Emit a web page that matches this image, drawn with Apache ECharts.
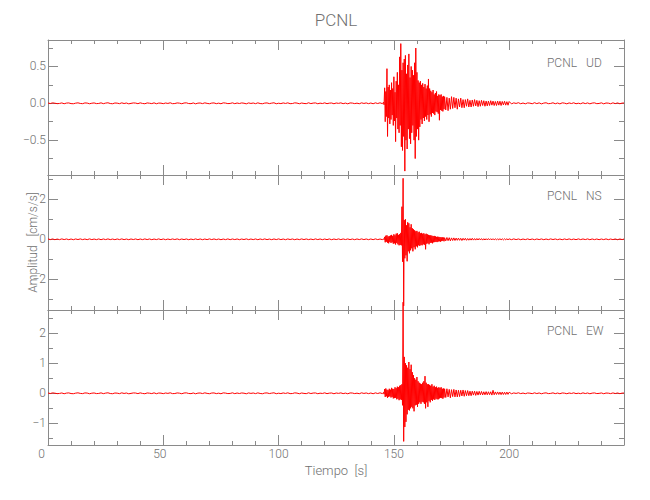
<!DOCTYPE html>
<html><head><meta charset="utf-8">
<script src="https://cdn.jsdelivr.net/npm/echarts@6/dist/echarts.min.js"></script>
<style>html,body{margin:0;padding:0;background:#fff}#main{width:650px;height:500px}</style>
</head><body><div id="main"></div>
<script>
// ---------------- data ----------------
const station = 'PCNL';
const components = ['UD', 'NS', 'EW'];
const tiempo = [
0,1,2,3,4,5,6,7,8,9,10,11,12,13,14,15,16,17,18,19,
20,21,22,23,24,25,26,27,28,29,30,31,32,33,34,35,36,37,38,39,
40,41,42,43,44,45,46,47,48,49,50,51,52,53,54,55,56,57,58,59,
60,61,62,63,64,65,66,67,68,69,70,71,72,73,74,75,76,77,78,79,
80,81,82,83,84,85,86,87,88,89,90,91,92,93,94,95,96,97,98,99,
100,101,102,103,104,105,106,107,108,109,110,111,112,113,114,115,116,117,118,119,
120,121,122,123,124,125,126,127,128,129,130,131,132,133,134,135,136,137,138,139,
140,141,142,143,144,145,
145.5,145.75,
146,146.25,146.5,146.75,147,147.25,147.5,147.75,148,148.25,148.5,148.75,
149,149.25,149.5,149.75,150,150.25,150.5,150.75,151,151.25,151.5,151.75,
152,152.25,152.5,152.75,153,153.25,153.5,153.75,154,154.25,154.5,154.75,
155,155.25,155.5,155.75,156,156.25,156.5,156.75,157,157.25,157.5,157.75,
158,158.25,158.5,158.75,159,159.25,159.5,159.75,160,160.25,160.5,160.75,
161,161.25,161.5,161.75,162,162.25,162.5,162.75,163,163.25,163.5,163.75,
164,164.25,164.5,164.75,165,165.25,165.5,165.75,166,166.25,166.5,166.75,
167,167.25,167.5,167.75,168,168.25,168.5,168.75,169,169.25,169.5,169.75,
170,170.25,170.5,170.75,171,171.25,171.5,171.75,172,
172.5,173,173.5,174,174.5,175,175.5,176,176.5,177,177.5,178,178.5,179,179.5,180,
180.5,181,181.5,182,182.5,183,183.5,184,184.5,185,185.5,186,186.5,187,187.5,188,
188.5,189,189.5,190,190.5,191,191.5,192,192.5,193,193.5,194,194.5,195,195.5,196,
196.5,197,197.5,198,198.5,199,199.5,200,
201,202,203,204,205,206,207,208,209,210,211,212,213,214,215,216,217,218,219,220,
221,222,223,224,225,226,227,228,229,230,231,232,233,234,235,236,237,238,239,240,
241,242,243,244,245,246,247,248,249,249.8
];
const ud = [
0.004,-0.003,0.006,0.001,-0.005,-0.002,0.005,-0.006,0.003,0.005,
-0.004,-0.006,0.002,0.006,-0.002,-0.005,0.005,0.003,-0.006,0.001,
0.005,-0.004,-0.002,0.006,-0.005,0.003,0.007,-0.003,-0.006,0.004,
0.002,-0.005,0.006,-0.003,0.004,-0.007,-0.001,0.005,0.003,-0.005,
0.006,-0.002,-0.006,0.005,0.001,-0.004,0.006,-0.006,0.003,0.002,
-0.005,0.004,-0.002,0.007,-0.005,-0.003,0.005,0.002,-0.006,0.004,
0.006,-0.003,-0.005,0.005,-0.007,0.002,0.004,-0.004,0.006,-0.001,
-0.006,0.003,0.005,-0.005,0.002,-0.006,0.006,0.003,-0.004,-0.002,
0.006,-0.005,0.004,-0.003,0.005,0.001,-0.007,0.005,-0.002,0.004,
-0.005,0.006,-0.003,-0.006,0.003,0.005,-0.004,0.002,0.007,-0.006,
0.001,-0.004,0.005,-0.002,0.006,-0.005,-0.003,0.006,0.003,-0.006,
0.004,-0.002,-0.005,0.007,-0.004,0.003,0.005,-0.006,0.002,-0.003,
0.006,-0.005,0.002,0.004,-0.006,0.004,-0.001,0.006,-0.005,0.003,
-0.007,0.005,0.003,-0.004,0.002,-0.006,0.006,-0.002,0.005,-0.005,
0.004,-0.006,0.006,-0.003,0.007,-0.005,
0.015,-0.02,0.21,-0.25,0.16,-0.18,0.47,-0.45,0.22,-0.2,
0.25,-0.28,0.18,-0.22,0.28,-0.16,0.2,-0.3,0.36,-0.24,
0.15,-0.52,0.3,-0.2,0.42,-0.35,0.25,-0.4,0.63,-0.3,
0.81,-0.59,0.45,-0.64,0.55,-0.45,0.6,-0.92,0.65,-0.5,
0.4,-0.62,0.52,-0.35,0.67,-0.48,0.35,-0.55,0.5,-0.4,
0.45,-0.3,0.38,-0.5,0.55,-0.75,0.75,-0.45,0.42,-0.35,
0.31,-0.5,0.28,-0.32,0.3,-0.22,0.25,-0.28,0.27,-0.2,
0.22,-0.24,0.26,-0.18,0.2,-0.22,0.24,-0.16,0.33,-0.25,
0.2,-0.15,0.17,-0.18,0.15,-0.13,0.18,-0.14,0.12,-0.16,
0.14,-0.11,0.16,-0.12,0.1,-0.14,0.12,-0.23,0.11,-0.09,
0.12,-0.1,0.09,-0.11,0.1,-0.08,0.09,
-0.09,0.08,-0.1,0.07,-0.08,0.09,-0.07,0.08,-0.06,0.07,
-0.08,0.06,-0.05,0.07,-0.06,0.05,-0.06,0.05,-0.04,0.06,
-0.05,0.04,-0.05,0.045,-0.04,0.05,-0.035,0.04,-0.045,0.035,
-0.04,0.04,-0.03,0.035,-0.04,0.03,-0.035,0.03,-0.03,0.035,
-0.025,0.03,-0.03,0.025,-0.03,0.03,-0.025,0.028,-0.03,0.025,
-0.022,0.028,-0.025,0.022,-0.026,0.024,
-0.008,0.006,-0.002,0.008,-0.006,0.004,-0.007,0.005,0.002,-0.006,
0.008,-0.004,0.006,-0.008,0.003,0.007,-0.005,-0.002,0.007,-0.006,
0.004,-0.008,0.006,0.002,-0.007,0.005,-0.003,0.007,-0.006,0.001,
-0.006,0.007,-0.004,0.005,-0.007,0.003,0.006,-0.005,-0.002,0.006,
-0.007,0.004,0.002,-0.006,0.006,-0.004,0.005,-0.006,0.003,0.004
];
const ns = [
0.02,-0.015,0.018,-0.02,0.012,-0.017,0.02,-0.014,0.016,-0.019,
0.015,-0.02,0.017,-0.013,0.019,-0.016,0.014,-0.018,0.02,-0.015,
0.012,-0.017,0.018,-0.02,0.016,-0.014,0.019,-0.016,0.013,-0.018,
0.017,-0.015,0.02,-0.017,0.014,-0.019,0.016,-0.013,0.018,-0.02,
0.015,-0.016,0.019,-0.014,0.017,-0.018,0.013,-0.015,0.02,-0.017,
0.016,-0.019,0.014,-0.016,0.018,-0.013,0.02,-0.018,0.015,-0.014,
0.017,-0.02,0.013,-0.017,0.019,-0.015,0.016,-0.019,0.014,-0.016,
0.02,-0.014,0.018,-0.017,0.015,-0.02,0.013,-0.016,0.019,-0.018,
0.016,-0.015,0.017,-0.019,0.014,-0.013,0.02,-0.017,0.015,-0.016,
0.018,-0.02,0.016,-0.014,0.019,-0.017,0.013,-0.018,0.017,-0.015,
0.02,-0.016,0.014,-0.019,0.018,-0.013,0.016,-0.02,0.015,-0.017,
0.019,-0.014,0.017,-0.016,0.013,-0.018,0.02,-0.015,0.016,-0.019,
0.014,-0.017,0.018,-0.02,0.015,-0.014,0.019,-0.016,0.017,-0.013,
0.018,-0.016,0.015,-0.019,0.017,-0.014,0.02,-0.015,0.016,-0.018,
0.016,-0.018,0.02,-0.015,0.014,-0.017,
0.02,-0.02,0.12,-0.15,0.18,-0.12,0.2,-0.17,0.14,-0.2,
0.16,-0.13,0.19,-0.18,0.22,-0.15,0.17,-0.22,0.25,-0.2,
0.2,-0.26,0.28,-0.18,0.3,-0.25,0.22,-0.3,0.26,-0.28,
0.32,-0.3,1.63,-1.12,3.05,-3.33,0.96,-0.95,1.0,-0.8,
0.7,-1.1,0.85,-0.6,0.8,-0.7,0.6,-0.55,0.75,-0.45,
0.55,-0.6,0.5,-0.4,0.45,-0.5,0.4,-0.35,0.42,-0.4,
0.35,-0.3,0.38,-0.33,0.3,-0.28,0.32,-0.3,0.28,-0.25,
0.3,-0.27,0.25,-0.5,0.28,-0.22,0.25,-0.2,0.22,-0.25,
0.2,-0.18,0.2,-0.17,0.18,-0.2,0.16,-0.15,0.17,-0.14,
0.15,-0.13,0.12,-0.14,0.13,-0.11,0.12,-0.1,0.11,-0.12,
0.1,-0.09,0.1,-0.08,0.09,-0.1,0.08,
-0.08,0.09,-0.07,0.08,-0.08,0.07,-0.06,0.07,-0.06,0.06,
-0.05,0.06,-0.05,0.05,-0.06,0.05,-0.04,0.05,-0.05,0.04,
-0.045,0.04,-0.04,0.05,-0.04,0.035,-0.04,0.04,-0.035,0.04,
-0.03,0.035,-0.04,0.03,-0.035,0.03,-0.03,0.035,-0.03,0.03,
-0.028,0.03,-0.03,0.025,-0.03,0.028,-0.025,0.03,-0.025,0.025,
-0.028,0.025,-0.022,0.025,-0.024,0.022,
-0.018,0.02,-0.015,0.017,-0.02,0.014,-0.016,0.019,-0.017,0.015,
-0.02,0.016,-0.014,0.018,-0.019,0.015,-0.017,0.02,-0.013,0.016,
-0.018,0.014,-0.02,0.017,-0.015,0.019,-0.016,0.013,-0.018,0.02,
-0.015,0.017,-0.014,0.019,-0.02,0.016,-0.017,0.015,-0.019,0.014,
-0.016,0.02,-0.018,0.013,-0.015,0.017,-0.02,0.016,-0.014,0.015
];
const ew = [
0.01,-0.008,0.014,0.003,-0.012,-0.005,0.011,-0.015,0.006,0.013,
-0.009,-0.014,0.005,0.015,-0.004,-0.011,0.012,0.007,-0.015,0.003,
0.011,-0.01,-0.005,0.014,-0.012,0.006,0.016,-0.008,-0.014,0.009,
0.004,-0.012,0.015,-0.006,0.01,-0.016,-0.003,0.012,0.008,-0.011,
0.014,-0.005,-0.015,0.011,0.003,-0.01,0.015,-0.014,0.008,0.005,
-0.012,0.01,-0.004,0.016,-0.011,-0.008,0.012,0.004,-0.015,0.009,
0.014,-0.006,-0.012,0.011,-0.016,0.005,0.01,-0.009,0.015,-0.003,
-0.014,0.008,0.012,-0.011,0.004,-0.015,0.014,0.006,-0.01,-0.005,
0.015,-0.012,0.009,-0.008,0.011,0.003,-0.016,0.012,-0.004,0.01,
-0.011,0.014,-0.006,-0.015,0.008,0.012,-0.009,0.005,0.016,-0.014,
0.003,-0.01,0.012,-0.005,0.015,-0.011,-0.008,0.014,0.006,-0.015,
0.01,-0.004,-0.012,0.016,-0.009,0.008,0.011,-0.014,0.004,-0.006,
0.015,-0.012,0.005,0.01,-0.015,0.009,-0.003,0.014,-0.011,0.006,
-0.016,0.012,0.008,-0.01,0.004,-0.014,0.015,-0.005,0.011,-0.012,
0.009,-0.015,0.014,-0.008,0.016,-0.011,
0.03,-0.03,0.14,-0.12,0.16,-0.1,0.12,-0.15,0.1,-0.12,
0.15,-0.1,0.12,-0.14,0.18,-0.12,0.15,-0.17,0.14,-0.16,
0.2,-0.15,0.17,-0.2,0.22,-0.18,0.2,-0.23,0.25,-0.2,
0.27,-0.22,0.3,-0.4,3.03,-1.6,1.21,-1.12,1.0,-0.95,
0.93,-0.7,0.85,-0.55,1.04,-0.57,0.8,-0.5,0.95,-0.45,
0.7,-0.5,0.6,-0.6,0.5,-0.4,0.45,-0.38,0.54,-0.45,
0.4,-0.35,0.35,-0.3,0.32,-0.35,0.3,-0.28,0.35,-0.3,
0.4,-0.35,0.57,-0.5,0.35,-0.3,0.3,-0.45,0.3,-0.25,
0.28,-0.3,0.25,-0.22,0.3,-0.25,0.22,-0.2,0.25,-0.22,
0.2,-0.18,0.22,-0.2,0.18,-0.2,0.2,-0.17,0.18,-0.15,
0.2,-0.16,0.15,-0.18,0.16,-0.14,0.15,
-0.14,0.15,-0.12,0.13,-0.15,0.12,-0.11,0.13,-0.12,0.11,
-0.12,0.1,-0.11,0.1,-0.09,0.11,-0.1,0.09,-0.08,0.09,
-0.08,0.07,-0.08,0.07,-0.06,0.07,-0.07,0.06,-0.06,0.065,
-0.05,0.06,-0.055,0.05,-0.05,0.055,-0.05,0.05,-0.045,0.05,
-0.06,0.1,-0.05,0.045,-0.04,0.045,-0.04,0.04,-0.045,0.04,
-0.04,0.035,-0.04,0.04,-0.035,0.035,
-0.015,0.012,-0.005,0.016,-0.011,0.008,-0.014,0.01,0.003,-0.012,
0.015,-0.009,0.011,-0.016,0.005,0.014,-0.01,-0.004,0.014,-0.012,
0.008,-0.015,0.011,0.004,-0.014,0.009,-0.006,0.015,-0.011,0.003,
-0.012,0.014,-0.008,0.01,-0.015,0.005,0.012,-0.009,-0.003,0.011,
-0.014,0.008,0.004,-0.011,0.012,-0.008,0.01,-0.012,0.006,0.008
];
// axis ranges and tick values
const xRange = [0, 249.8];
const xTicks = [0, 50, 100, 150, 200];
const xMinorTicks = [10,20,30,40,60,70,80,90,110,120,130,140,160,170,180,190,210,220,230,240];
const udRange = [-0.973, 0.859];
const udTicks = [-0.5, 0, 0.5];
const udMinorTicks = [-0.75, -0.25, 0.25, 0.75];
const nsRange = [-3.535, 3.215];
const nsTicks = [-2, 0, 2];
const nsMinorTicks = [-3, -1, 1, 3];
const ewRange = [-1.72, 2.77];
const ewTicks = [-1, 0, 1, 2];
const ewMinorTicks = [-1.5, -0.5, 0.5, 1.5, 2.5];

const lens = [ud, ns, ew].map(a => a.length);
if (lens.some(l => l !== tiempo.length)) throw new Error('length mismatch ' + lens.join(',') + ' vs ' + tiempo.length);

// ---------------- chart ----------------
const FONT = 'Roboto, "Liberation Sans", sans-serif';
const AXIS_COLOR = '#8a8a8a';
const TEXT_COLOR = '#707070';
const GRID_LEFT = 48, GRID_W = 576, GRID_H = 135;
const GRID_TOPS = [40, 175, 310];
const LABEL_TOPS = [56.5, 190, 325];

const panels = [
  {comp: components[0], values: ud, range: udRange, major: udTicks, minor: udMinorTicks, dec: 1},
  {comp: components[1], values: ns, range: nsRange, major: nsTicks, minor: nsMinorTicks, dec: 0},
  {comp: components[2], values: ew, range: ewRange, major: ewTicks, minor: ewMinorTicks, dec: 0}
];

const lineStyle = {color: AXIS_COLOR, width: 1};
const txt = {fontFamily: FONT, color: TEXT_COLOR, fontSize: 12, fontWeight: 300};
const grid = [], xAxis = [], yAxis = [], series = [];
const title = [{
  text: station, left: 336, top: 11, textAlign: 'center', padding: 0,
  textStyle: {...txt, fontSize: 17}
}];

panels.forEach((p, k) => {
  grid.push({left: GRID_LEFT, top: GRID_TOPS[k], width: GRID_W, height: GRID_H});
  const xMain = xAxis.length;
  const mkX = (pos, ticks, len, main) => {
    const ax = {
      type: 'value', gridIndex: k, position: pos, min: xRange[0], max: xRange[1],
      axisLine: {show: main, onZero: false, lineStyle},
      axisTick: {show: true, inside: true, length: len, customValues: ticks, lineStyle},
      axisLabel: {show: false},
      splitLine: {show: false}
    };
    if (main && pos === 'bottom' && k === 2) {
      ax.axisLabel = {
        show: true, customValues: ticks, margin: 3, ...txt,
        formatter: v => v === 0 ? '{a|0}' : (v === 50 ? '{b|50}' : String(v)),
        rich: {a: {...txt, padding: [0, 13, 0, 0]}, b: {...txt, padding: [0, 7, 0, 0]}}
      };
      ax.name = 'Tiempo  [s]';
      ax.nameLocation = 'middle';
      ax.nameGap = 19;
      ax.nameTextStyle = {...txt, fontSize: 13};
    }
    return ax;
  };
  xAxis.push(mkX('bottom', xTicks, 10, true));
  xAxis.push(mkX('bottom', xMinorTicks, 4, false));
  xAxis.push(mkX('top', xTicks, 10, true));
  xAxis.push(mkX('top', xMinorTicks, 4, false));

  const yMain = yAxis.length;
  const mkY = (pos, ticks, len, main) => {
    const ax = {
      type: 'value', gridIndex: k, position: pos, min: p.range[0], max: p.range[1],
      axisLine: {show: main, onZero: false, lineStyle},
      axisTick: {show: true, inside: true, length: len, customValues: ticks, lineStyle},
      axisLabel: {show: false},
      splitLine: {show: false}
    };
    if (main && pos === 'left') {
      ax.axisLabel = {
        show: true, customValues: ticks, margin: 2, ...txt,
        formatter: v => (v < 0 ? '\u2212' : '') + Math.abs(v).toFixed(p.dec)
      };
      if (k === 1) {
        ax.name = 'Amplitud   [cm/s/s]';
        ax.nameLocation = 'middle';
        ax.nameRotate = 90;
        ax.nameGap = 9;
        ax.nameMoveOverlap = false;
        ax.nameTextStyle = {...txt, fontSize: 12};
      }
    }
    return ax;
  };
  yAxis.push(mkY('left', p.major, 10, true));
  yAxis.push(mkY('left', p.minor, 5, false));
  yAxis.push(mkY('right', p.major, 10, true));
  yAxis.push(mkY('right', p.minor, 5, false));

  series.push({
    type: 'line', xAxisIndex: xMain, yAxisIndex: yMain,
    data: tiempo.map((t, n) => [t, p.values[n]]),
    showSymbol: false, symbol: 'none', clip: false, silent: true,
    lineStyle: {color: '#ff0000', width: 1}, itemStyle: {color: '#ff0000'},
    animation: false
  });

  title.push({text: station, left: 577, top: LABEL_TOPS[k], textAlign: 'right', padding: 0,
    textStyle: {...txt}});
  title.push({text: p.comp, left: 586, top: LABEL_TOPS[k], padding: 0,
    textStyle: {...txt}});
});

const chart = echarts.init(document.getElementById('main'), null, {renderer: 'svg', width: 650, height: 500});
chart.setOption({
  backgroundColor: '#ffffff',
  animation: false,
  title, grid, xAxis, yAxis, series
});
</script>
</body></html>
